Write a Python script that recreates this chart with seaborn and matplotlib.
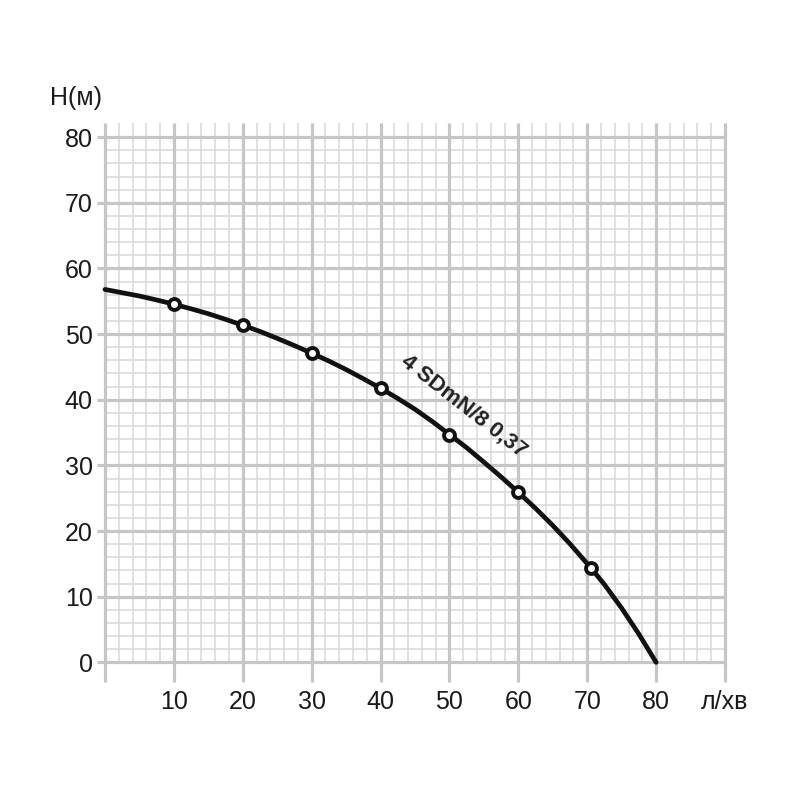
import matplotlib
matplotlib.use("Agg")
import matplotlib.pyplot as plt
import seaborn as sns
import pandas as pd

# pump curve (flow л/хв, head м)
curve_q = [0, 2.5, 5, 7.5, 10, 12.5, 15, 17.5, 20, 22.5, 25, 27.5, 30, 32.5,
           35, 37.5, 40, 42.5, 45, 47.5, 50, 52.5, 55, 57.5, 60, 62.5, 65,
           67.5, 70.6, 72.5, 75, 77.5, 80]
curve_h = [56.8, 56.3, 55.8, 55.2, 54.55, 53.85, 53.1, 52.25, 51.35, 50.4,
           49.35, 48.25, 47.1, 45.9, 44.6, 43.2, 41.75, 40.2, 38.55, 36.7,
           34.7, 32.7, 30.5, 28.25, 25.9, 23.45, 20.85, 18.05, 14.3, 11.85,
           8.25, 4.3, 0]

# marked points on the curve
pt_q = [10, 20, 30, 40, 50, 60, 70.6]
pt_h = [54.55, 51.35, 47.1, 41.75, 34.7, 25.9, 14.3]

x_ticks = [10, 20, 30, 40, 50, 60, 70, 80, 90]
x_labels = ["10", "20", "30", "40", "50", "60", "70", "80", "л/хв"]
y_ticks = [0, 10, 20, 30, 40, 50, 60, 70, 80]
y_labels = ["0", "10", "20", "30", "40", "50", "60", "70", "80"]

model = "4 SDmN/8 0,37"

sns.set_style("white")
plt.rcParams["font.family"] = ["Liberation Sans", "DejaVu Sans"]

fig = plt.figure(figsize=(8, 8), dpi=100)
ax = fig.add_axes([0.1209, 0.1425, 0.8026, 0.7189])
ax.set_xlim(-1.2, 92)
ax.set_ylim(-3.6, 84)

major = "#c6c6c6"
minor = "#d8d8d8"
minor_x = [v for v in range(2, 90, 2) if v % 10]
minor_y = [v for v in range(2, 80, 2) if v % 10]
ax.vlines(minor_x, 0, 82.2, color=minor, lw=1.1, zorder=1)
ax.hlines(minor_y, 0, 90, color=minor, lw=1.1, zorder=1)
ax.vlines(range(0, 91, 10), -3, 82.2, color=major, lw=2.3, zorder=2)
ax.hlines(y_ticks, -1.1, 90, color=major, lw=2.3, zorder=2)

df = pd.DataFrame({"q": curve_q, "h": curve_h})
sns.lineplot(data=df, x="q", y="h", ax=ax, color="#111111", lw=3.4,
             sort=False, zorder=3, solid_capstyle="round",
             solid_joinstyle="round")
pts = pd.DataFrame({"q": pt_q, "h": pt_h})
sns.scatterplot(data=pts, x="q", y="h", ax=ax, s=62, color="white",
                edgecolor="#111111", linewidth=2.8, zorder=4)

ax.text(52.1, 39.1, model, rotation=-38, rotation_mode="anchor",
        ha="center", va="center", fontsize=16, fontweight="bold",
        color="#222222")

ax.set_xticks(x_ticks, x_labels)
ax.set_yticks(y_ticks, y_labels)
ax.tick_params(axis="both", length=0, labelsize=18, colors="#1a1a1a")
ax.tick_params(axis="y", pad=3)
ax.tick_params(axis="x", pad=3)
ax.set_xlabel("")
ax.set_ylabel("")
sns.despine(ax=ax, left=True, bottom=True)

fig.text(0.0625, 0.877, "H(м)", fontsize=18, color="#1a1a1a",
         ha="left", va="center")

fig.savefig("out.png", dpi=100)
